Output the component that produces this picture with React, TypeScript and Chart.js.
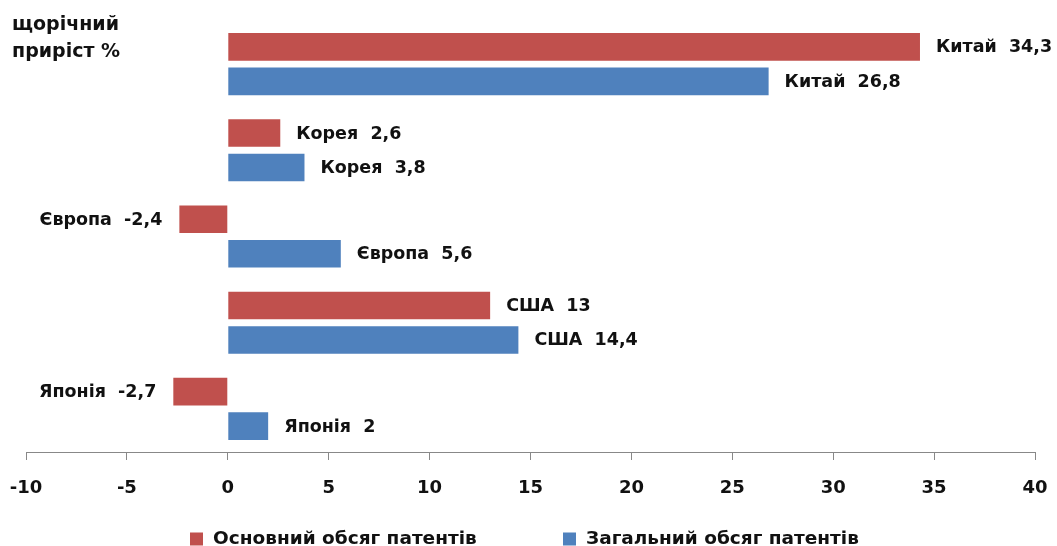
import React, { useEffect, useRef } from "react";
import { Chart, registerables } from "chart.js";

Chart.register(...registerables);

const categories = ["Китай", "Корея", "Європа", "США", "Японія"];
const mainPatents = [34.3, 2.6, -2.4, 13, -2.7];
const totalPatents = [26.8, 3.8, 5.6, 14.4, 2];
const seriesNames = ["Основний обсяг патентів", "Загальний обсяг патентів"];
const titleLines = ["щорічний", "приріст %"];
const xMin = -10;
const xMax = 40;
const xStep = 5;

const RED = "#C0504D";
const BLUE = "#4F81BD";
const FONT = "'DejaVu Sans', sans-serif";

const fmt = (v: number) => String(v).replace(".", ",");

const overlayPlugin = {
  id: "overlay",
  afterDatasetsDraw(chart: any) {
    const ctx = chart.ctx;
    ctx.save();
    ctx.fillStyle = "#111";
    ctx.font = `bold 17.5px ${FONT}`;
    ctx.textBaseline = "middle";
    chart.data.datasets.forEach((ds: any, di: number) => {
      const meta = chart.getDatasetMeta(di);
      meta.data.forEach((el: any, i: number) => {
        const v = ds.data[i];
        const text = `${categories[i]}  ${fmt(v)}`;
        if (v >= 0) {
          ctx.textAlign = "left";
          ctx.fillText(text, el.x + 16, el.y + 1);
        } else {
          ctx.textAlign = "right";
          ctx.fillText(text, el.x - 17, el.y + 1);
        }
      });
    });
    ctx.restore();
  },
  afterDraw(chart: any) {
    const ctx = chart.ctx;
    ctx.save();
    ctx.fillStyle = "#111";
    ctx.font = `bold 19px ${FONT}`;
    ctx.textAlign = "left";
    ctx.textBaseline = "alphabetic";
    ctx.fillText(titleLines[0], 12, 30);
    ctx.fillText(titleLines[1], 12, 57);
    ctx.font = `bold 18.5px ${FONT}`;
    ctx.textBaseline = "middle";
    const colors = [RED, BLUE];
    const xs = [190, 563];
    const yc = 539;
    seriesNames.forEach((name, i) => {
      ctx.fillStyle = colors[i];
      ctx.fillRect(xs[i], yc - 6.5, 13, 13);
      ctx.fillStyle = "#111";
      ctx.fillText(name, xs[i] + 23, yc);
    });
    ctx.restore();
  },
};

export default function App() {
  const ref = useRef<HTMLCanvasElement | null>(null);
  useEffect(() => {
    if (!ref.current) return;
    const chart = new Chart(ref.current, {
      type: "bar",
      data: {
        labels: categories,
        datasets: [
          {
            label: seriesNames[0],
            data: mainPatents,
            backgroundColor: RED,
            categoryPercentage: 0.8,
            barPercentage: 0.8,
          },
          {
            label: seriesNames[1],
            data: totalPatents,
            backgroundColor: BLUE,
            categoryPercentage: 0.8,
            barPercentage: 0.8,
          },
        ],
      },
      options: {
        indexAxis: "y",
        animation: false,
        responsive: false,
        layout: { padding: { left: 26, right: 22, top: 21, bottom: 0 } },
        plugins: { legend: { display: false }, tooltip: { enabled: false }, title: { display: false } },
        scales: {
          y: { display: false },
          x: {
            min: xMin,
            max: xMax,
            ticks: {
              stepSize: xStep,
              color: "#111",
              font: { family: FONT, size: 18, weight: "bold" },
              padding: 18,
            },
            grid: {
              display: true,
              drawOnChartArea: false,
              drawTicks: true,
              tickLength: 8,
              color: "#888",
            },
            border: { display: true, color: "#888", width: 1 },
            afterFit: (scale: any) => {
              scale.height = 94;
              scale.paddingLeft = 0;
              scale.paddingRight = 0;
            },
          },
        },
      },
      plugins: [overlayPlugin],
    });
    return () => chart.destroy();
  }, []);
  return (
    <div style={{ position: "fixed", left: 0, top: 0, width: 1057, height: 546 }}>
      <canvas ref={ref} width={1057} height={546} style={{ display: "block" }} />
    </div>
  );
}
